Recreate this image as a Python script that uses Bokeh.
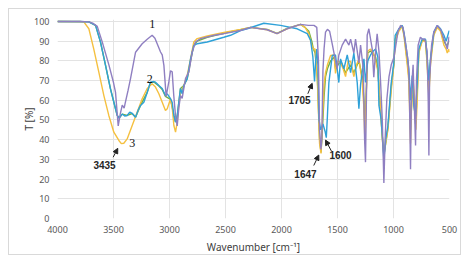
from bokeh.plotting import figure
from bokeh.models import Range1d, FixedTicker, Arrow, NormalHead
from bokeh.core.properties import value
from bokeh.embed import file_html
from bokeh.resources import INLINE

# ---- data ----
wn_1 = [4000, 3800, 3720, 3680, 3645, 3600, 3540, 3500, 3482, 3465, 3458, 3440, 3422, 3405, 3396,
        3370, 3348, 3303, 3244, 3199, 3155, 3130, 3110, 3080, 3065, 3050, 3030, 3006, 2991, 2976,
        2962, 2946, 2931, 2917, 2902, 2887, 2872, 2857, 2827, 2797, 2768, 2723, 2600, 2515, 2366,
        2276, 2128, 2040, 1950, 1830, 1760, 1710, 1685, 1670, 1660, 1648, 1640, 1630, 1620, 1607,
        1590, 1570, 1545, 1533, 1503, 1488, 1458, 1428, 1398, 1383, 1354, 1339, 1309, 1294, 1270,
        1258, 1250, 1242, 1235, 1220, 1190, 1176, 1160, 1146, 1130, 1116, 1100, 1086, 1075, 1060,
        1040, 1020, 995, 960, 937, 915, 890, 870, 860, 848, 840, 825, 810, 803, 795, 780, 760, 740,
        720, 700, 690, 684, 678, 660, 640, 609, 580, 550, 530, 520, 505, 500]
t_1 = [100, 100, 99.8, 99, 97.5, 89.5, 77.7, 69, 64, 52, 47, 53, 57.5, 56, 58.4,
       65, 71, 84.4, 88.7, 91, 93, 91.5, 88.7, 84.5, 83, 77.7, 62, 69.3, 75, 74.4,
       62.4, 52, 47, 56, 62.4, 61, 66, 71, 74.4, 84.5, 89.6, 91.3, 93, 93.8, 95.4,
       97, 95.8, 93.8, 96.3, 98.5, 98, 98, 97, 80, 45, 35, 40, 75, 86, 94.6,
       96, 95, 88, 84.4, 76, 83, 88, 91, 88, 91, 84, 91, 79, 88, 76,
       40, 28.6, 60, 93, 96.3, 86, 71.7, 85, 93.7, 85, 70, 50, 18, 40, 60,
       72, 78, 82, 95, 98, 97, 88, 80, 70, 25, 65, 78, 50, 37, 70, 88, 92, 91,
       91, 85, 60, 32, 70, 88, 94.6, 98, 96, 91, 88, 86, 92, 92]

wn_2 = [4000, 3800, 3720, 3660, 3616, 3571, 3527, 3482, 3467, 3450, 3422, 3400, 3378, 3355, 3333,
        3303, 3280, 3259, 3229, 3199, 3170, 3140, 3125, 3095, 3065, 3036, 3020, 2991, 2976, 2961,
        2946, 2931, 2917, 2902, 2887, 2872, 2842, 2812, 2783, 2753, 2663, 2515, 2455, 2366, 2306,
        2158, 2009, 1860, 1770, 1740, 1720, 1705, 1695, 1685, 1675, 1665, 1650, 1630, 1610, 1600,
        1590, 1577, 1547, 1518, 1488, 1473, 1443, 1413, 1383, 1354, 1324, 1309, 1294, 1264, 1250,
        1230, 1205, 1180, 1160, 1140, 1130, 1110, 1086, 1070, 1050, 1020, 997, 985, 952, 922,
        905, 877, 863, 848, 833, 818, 803, 788, 774, 744, 714, 700, 684, 670, 640, 609, 580,
        550, 530, 520, 505, 500]
t_2 = [100, 100, 99.8, 98, 89.5, 77.7, 65.8, 55.7, 52.3, 51, 53, 52, 52.3, 54, 53.3,
       51.4, 55, 57.4, 59, 64, 69.2, 69.5, 69.2, 67.5, 66, 62.4, 63.3, 60.8, 59, 52.3,
       49, 52, 59, 66, 63.3, 67.5, 71, 81, 87.8, 88.7, 89.6, 92, 93, 95.4, 96.3,
       99.1, 98, 96.3, 93.8, 90.4, 82, 69.5, 80, 86, 78, 50, 45, 48, 44, 41,
       52, 69, 82.7, 83, 69, 81, 76, 83, 74, 84, 69, 55.7, 68, 81, 69,
       80, 83, 85, 86, 82, 57.4, 50, 30, 40, 47, 69, 79, 93, 96.3, 98,
       94, 82.7, 76, 60, 72.6, 57, 52, 69, 86, 91, 91, 82.7, 70, 81, 94.6, 98, 96.3,
       93, 90, 92, 95, 95.4]

wn_3 = [4000, 3800, 3765, 3720, 3676, 3631, 3586, 3542, 3497, 3452, 3430, 3408, 3378, 3333, 3288,
        3244, 3199, 3155, 3125, 3095, 3065, 3036, 3020, 2991, 2976, 2961, 2946, 2931, 2917, 2902,
        2872, 2842, 2812, 2783, 2753, 2663, 2515, 2366, 2276, 2128, 2040, 1950, 1830, 1790, 1756,
        1730, 1715, 1700, 1680, 1660, 1647, 1635, 1620, 1607, 1590, 1562, 1530, 1518, 1500, 1473,
        1450, 1428, 1405, 1383, 1354, 1330, 1309, 1279, 1264, 1255, 1245, 1230, 1205, 1180, 1160,
        1140, 1120, 1100, 1086, 1070, 1050, 1020, 997, 985, 952, 922, 905, 877, 863, 848, 840,
        825, 810, 800, 788, 774, 744, 714, 700, 684, 670, 640, 609, 580, 550, 530, 520, 505, 500]
t_3 = [100, 100, 99.8, 96.3, 86, 74.3, 62.4, 52.3, 43.8, 39.6, 38, 38.2, 40.4, 47.2, 54,
       60.8, 66, 68.4, 66.7, 63.3, 59, 54.8, 55.7, 60.8, 56.5, 47.2, 43.8, 49, 57.4, 64,
       67.5, 72.6, 81, 89.6, 91.3, 92.6, 94.4, 96, 97, 95.8, 93.8, 96.3, 98.5, 97, 93.8,
       88, 86, 86, 70, 38, 33, 50, 68, 74, 78, 82.7, 83, 73.6, 80, 79,
       76, 72, 80, 79.7, 72, 78, 81, 69, 56, 38, 60, 85, 86, 84, 80,
       75, 60, 40, 33, 38, 45, 65, 78, 90, 95, 97.5, 92, 78, 70, 38, 55,
       70, 60, 45, 60, 84, 90, 90, 78, 62, 78, 93, 97, 95, 88, 86, 84, 86, 84.4]

wn_4 = [4000, 3720, 3660, 3616, 3571, 3527, 3482, 3467, 3450, 3422, 3378, 3333, 3303, 3259, 3199,
        3170, 3140, 3095, 3065, 3036, 2991, 2961, 2946, 2931, 2902, 2872, 2842, 2827, 2812, 2783,
        2753, 2663, 2515, 2366, 2276, 2128, 2040,
        1950, 1830, 1790, 1756, 1730, 1715, 1700, 1680, 1660, 1647, 1635, 1620, 1607, 1590, 1562,
        1530, 1518, 1473, 1428, 1383, 1354, 1309, 1279, 1264, 1255, 1245, 1230, 1205, 1160, 1140,
        1120, 1100, 1086, 1070, 1050, 1020, 997, 985, 952, 922, 905, 877, 863, 848, 833, 818, 803,
        788, 774, 744, 714, 700, 684, 670, 640, 609, 580, 550, 530, 520, 505, 500]
t_4 = [100, 99.8, 98, 89.5, 77.7, 65.8, 55.7, 52.3, 51, 53, 52.3, 53.3, 51.4, 57.4, 64,
       69, 69.3, 67.3, 65.5, 62, 60.5, 52.3, 49, 52, 66, 67.5, 71, 75, 80, 88,
       90, 92, 94, 95.8, 97, 96, 94,
       96.5, 98.5, 97, 95, 90, 86, 84, 72, 40, 33.5, 45, 62, 72, 76, 80,
       82, 76, 80, 74, 78, 74, 80, 72, 60, 45, 62, 84, 85, 82, 76,
       58, 42, 32, 38, 46, 67, 78, 91, 96, 97.8, 93, 80, 72, 45, 65, 60, 48,
       64, 85, 90.5, 90.5, 80, 65, 80, 94, 97.5, 95.5, 90, 88, 88, 90, 90]

x_ticks = [4000, 3500, 3000, 2500, 2000, 1500, 1000, 500]
y_ticks = [0, 10, 20, 30, 40, 50, 60, 70, 80, 90, 100]
peak_labels = ["3435", "1705", "1647", "1600"]
curve_labels = ["1", "2", "3"]

p = figure(width=453, height=247, output_backend="svg", toolbar_location=None,
           x_range=Range1d(4000, 500), y_range=Range1d(0, 101),
           min_border_left=48, min_border_right=13, min_border_top=10, min_border_bottom=38,
           background_fill_color="white", border_fill_color="white")
p.margin = (8, 0, 0, 8)
p.styles = {"border": "1px solid #d9d9d9"}
p.outline_line_color = None

grid_c = "#e3e3e3"
p.xgrid.ticker = FixedTicker(ticks=x_ticks)
p.ygrid.ticker = FixedTicker(ticks=y_ticks)
p.xgrid.grid_line_color = grid_c
p.ygrid.grid_line_color = grid_c
p.xaxis.ticker = FixedTicker(ticks=x_ticks)
p.yaxis.ticker = FixedTicker(ticks=y_ticks)
for ax in (p.xaxis[0], p.yaxis[0]):
    ax.axis_line_color = None
    ax.major_tick_line_color = None
    ax.minor_tick_line_color = None
    ax.major_tick_out = 0
    ax.major_tick_in = 0
    ax.minor_tick_out = 0
    ax.minor_tick_in = 0
    ax.major_label_text_font = "Noto Sans"
    ax.major_label_text_font_size = "9px"
    ax.major_label_text_color = "#595959"
    ax.axis_label_text_font = "Noto Sans"
    ax.axis_label_text_font_size = "10px"
    ax.axis_label_text_font_style = "normal"
    ax.axis_label_text_color = "#404040"
p.xaxis.major_label_standoff = 7
p.yaxis.major_label_standoff = 8
p.xaxis.axis_label = "Wavenumber [cm\u207b\u00b9]"
p.yaxis.axis_label = "T [%]"
p.xaxis.axis_label_standoff = 4
p.yaxis.axis_label_standoff = -5

lw = 1.4
p.line(wn_4, t_4, line_color="#72B043", line_width=lw)
p.line(wn_3, t_3, line_color="#F5C040", line_width=lw)
p.line(wn_2, t_2, line_color="#2EA1D8", line_width=lw)
p.line(wn_1, t_1, line_color="#8F7FC1", line_width=lw)

# curve numbers
p.text(x=[3154, 3176, 3333], y=[98.5, 70.6, 38.2], text=curve_labels,
       text_font=value("Liberation Serif"), text_font_size="12px", text_color="#111111",
       text_align="center", text_baseline="middle")

# peak labels
p.text(x=[3580, 1839, 1786, 1473], y=[27.4, 59.9, 22.8, 32.0], text=peak_labels,
       text_font=value("Liberation Sans"), text_font_size="10px", text_font_style="bold",
       text_color="#262626", text_align="center", text_baseline="middle")

arrows = [((3503, 31.1), (3462, 35.6)), ((1765, 63.3), (1726, 68.6)),
          ((1712, 26.9), (1667, 32.2)), ((1554, 34.2), (1607, 39.8))]
for (xs, ys), (xe, ye) in arrows:
    p.add_layout(Arrow(end=NormalHead(size=5, fill_color="#222222", line_color="#222222"),
                       x_start=xs, y_start=ys, x_end=xe, y_end=ye,
                       line_color="#222222", line_width=1))

open("out.html", "w").write(file_html(p, INLINE, "IR spectra"))
